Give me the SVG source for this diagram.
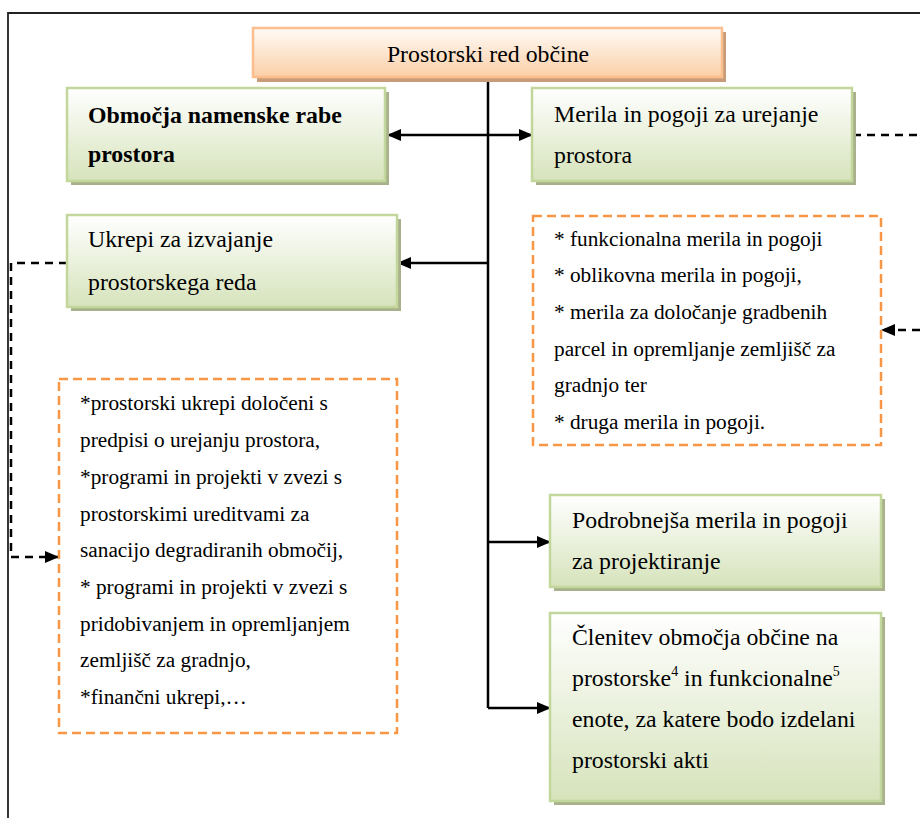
<svg xmlns="http://www.w3.org/2000/svg" width="920" height="818" viewBox="0 0 920 818">
<defs>
  <linearGradient id="gGreen" x1="0" y1="0" x2="0" y2="1">
    <stop offset="0" stop-color="#ffffff"/>
    <stop offset="1" stop-color="#d6e3bb"/>
  </linearGradient>
  <linearGradient id="gPeach" x1="0" y1="0" x2="0" y2="1">
    <stop offset="0" stop-color="#fffbf7"/>
    <stop offset="1" stop-color="#fbcfa7"/>
  </linearGradient>
  <marker id="ah" viewBox="0 0 14 12" refX="13" refY="6" markerWidth="14" markerHeight="12" markerUnits="userSpaceOnUse" orient="auto-start-reverse">
    <path d="M0,0 L14,6 L0,12 Z" fill="#000"/>
  </marker>
  <style>
    .txt { font-family: "Liberation Serif", "Times New Roman", serif; fill: #000; }
    .big { font-size: 23.8px; }
    .small { font-size: 21.3px; }
    .bold { font-weight: bold; }
    .sup { font-size: 14px; }
    .gbox { fill: url(#gGreen); stroke: #c3d69b; stroke-width: 2.5; }
    .gshadow { fill: #a8b18b; }
    .pbox { fill: url(#gPeach); stroke: #fbbe8c; stroke-width: 2.5; }
    .pshadow { fill: #c89c78; }
    .obox { fill: #ffffff; stroke: #f79646; stroke-width: 2.5; stroke-dasharray: 9 5; }
    .solid { fill: none; stroke: #000; stroke-width: 2.5; }
    .dash { fill: none; stroke: #000; stroke-width: 2.5; stroke-dasharray: 8 6; }
    .frame { fill: none; stroke: #222; stroke-width: 1.8; }
  </style>
</defs>
<rect x="0" y="0" width="920" height="818" fill="#ffffff"/>
<path class="frame" d="M8,818 L8,13 L920,13"/>

<g id="connectors">
  <line class="solid" x1="488" y1="78" x2="488" y2="708"/>
  <line class="solid" x1="388" y1="135" x2="532" y2="135" marker-start="url(#ah)" marker-end="url(#ah)"/>
  <line class="solid" x1="488" y1="263" x2="398" y2="263" marker-end="url(#ah)"/>
  <line class="solid" x1="488" y1="542" x2="550" y2="542" marker-end="url(#ah)"/>
  <line class="solid" x1="488" y1="708" x2="550" y2="708" marker-end="url(#ah)"/>
  <line class="dash" x1="853" y1="135" x2="920" y2="135"/>
  <line class="dash" x1="920" y1="330" x2="882" y2="330" marker-end="url(#ah)"/>
  <path class="dash" d="M67,263 L11,263 L11,557 L58,557" marker-end="url(#ah)"/>
</g>

<g id="node-prostorski-red">
  <rect class="pshadow" x="257" y="32" width="469" height="50"/>
  <rect class="pbox" x="253" y="28" width="469" height="49"/>
  <text class="txt big" x="488" y="62" text-anchor="middle">Prostorski red občine</text>
</g>

<g id="node-obmocja">
  <rect class="gshadow" x="71" y="92" width="318" height="93"/>
  <rect class="gbox" x="67" y="88" width="318" height="93"/>
  <text class="txt big bold" x="88" y="123">Območja namenske rabe</text>
  <text class="txt big bold" x="88" y="162">prostora</text>
</g>

<g id="node-merila">
  <rect class="gshadow" x="536" y="92" width="320" height="93"/>
  <rect class="gbox" x="532" y="88" width="320" height="93"/>
  <text class="txt big" x="554" y="122">Merila in pogoji za urejanje</text>
  <text class="txt big" x="554" y="163">prostora</text>
</g>

<g id="node-ukrepi">
  <rect class="gshadow" x="71" y="219" width="330" height="92"/>
  <rect class="gbox" x="67" y="215" width="330" height="92"/>
  <text class="txt big" x="88" y="247">Ukrepi za izvajanje</text>
  <text class="txt big" x="88" y="290">prostorskega reda</text>
</g>

<g id="node-merila-list">
  <rect class="obox" x="533" y="216" width="348" height="229"/>
  <text class="txt small" x="554" y="246">* funkcionalna merila in pogoji</text>
  <text class="txt small" x="554" y="282">* oblikovna merila in pogoji,</text>
  <text class="txt small" x="554" y="319">* merila za določanje gradbenih</text>
  <text class="txt small" x="554" y="356">parcel in opremljanje zemljišč za</text>
  <text class="txt small" x="554" y="392">gradnjo ter</text>
  <text class="txt small" x="554" y="429">* druga merila in pogoji.</text>
</g>

<g id="node-ukrepi-list">
  <rect class="obox" x="59" y="379" width="338" height="354"/>
  <text class="txt small" x="80" y="410">*prostorski ukrepi določeni s</text>
  <text class="txt small" x="80" y="447">predpisi o urejanju prostora,</text>
  <text class="txt small" x="80" y="484">*programi in projekti v zvezi s</text>
  <text class="txt small" x="80" y="521">prostorskimi ureditvami za</text>
  <text class="txt small" x="80" y="557">sanacijo degradiranih območij,</text>
  <text class="txt small" x="80" y="594">* programi in projekti v zvezi s</text>
  <text class="txt small" x="80" y="631">pridobivanjem in opremljanjem</text>
  <text class="txt small" x="80" y="667">zemljišč za gradnjo,</text>
  <text class="txt small" x="80" y="704">*finančni ukrepi,…</text>
</g>

<g id="node-podrobnejsa">
  <rect class="gshadow" x="554" y="499" width="331" height="92"/>
  <rect class="gbox" x="550" y="495" width="331" height="92"/>
  <text class="txt big" x="572" y="528">Podrobnejša merila in pogoji</text>
  <text class="txt big" x="572" y="569">za projektiranje</text>
</g>

<g id="node-clenitev">
  <rect class="gshadow" x="554" y="617" width="331" height="188"/>
  <rect class="gbox" x="550" y="613" width="331" height="188"/>
  <text class="txt big" x="572" y="645">Členitev območja občine na</text>
  <text class="txt big" x="572" y="686">prostorske<tspan class="sup" dy="-10">4</tspan><tspan dy="10"> in funkcionalne</tspan><tspan class="sup" dy="-10">5</tspan></text>
  <text class="txt big" x="572" y="727">enote, za katere bodo izdelani</text>
  <text class="txt big" x="572" y="768">prostorski akti</text>
</g>
</svg>
